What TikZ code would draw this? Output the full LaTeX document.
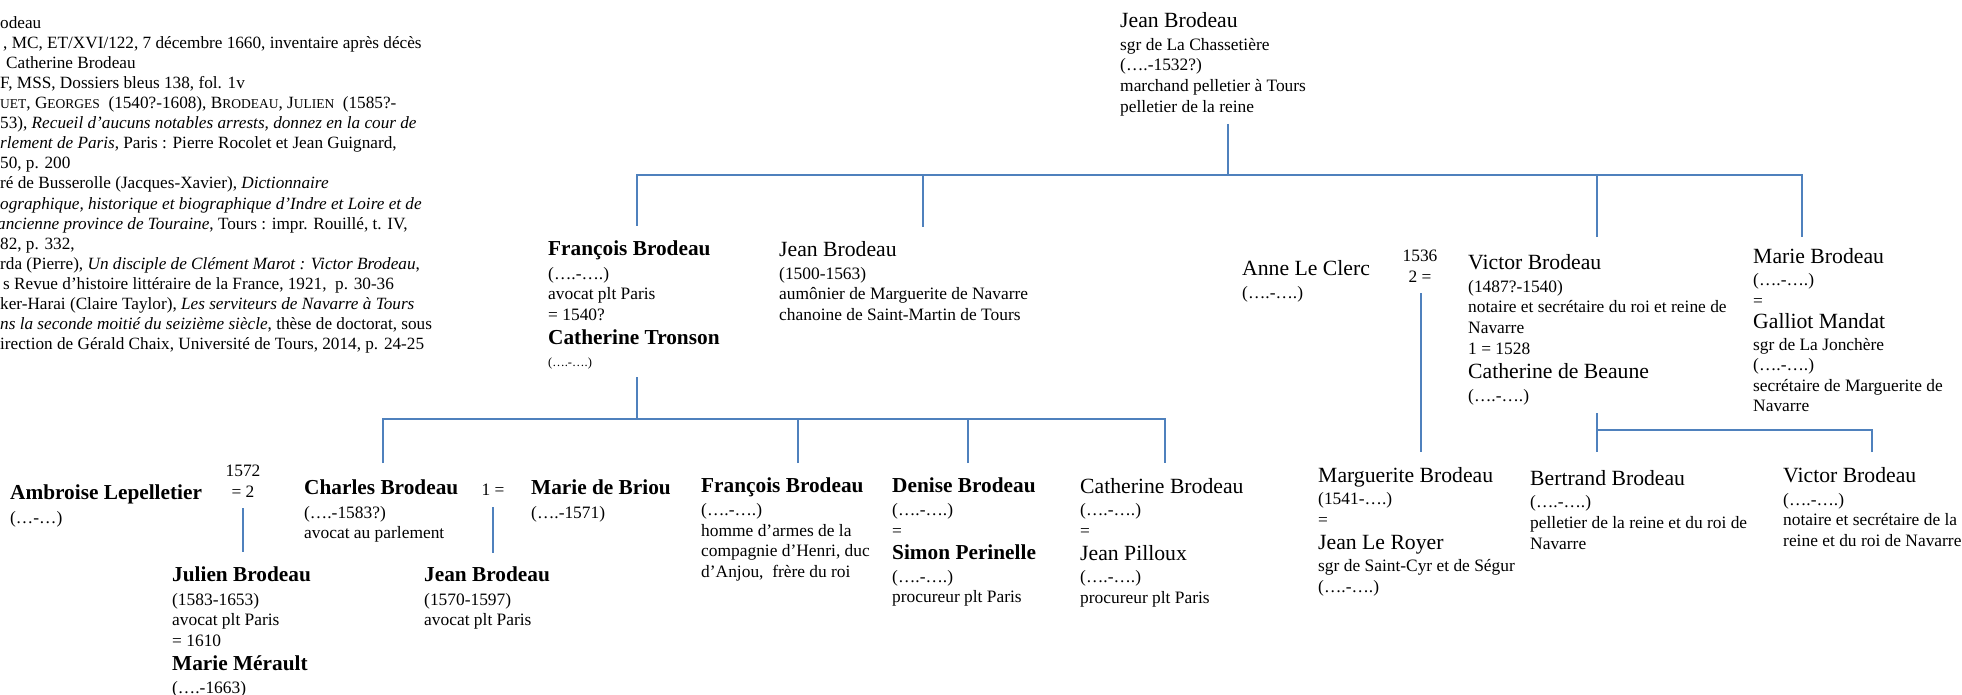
\documentclass[tikz,border=0pt]{standalone}
\usepackage{fontspec}
\setmainfont{Liberation Serif}
\definecolor{treeblue}{HTML}{4F81BD}
\newcommand\detf{\fontsize{17.4}{20.6}\selectfont}
\newcommand\namef{\fontsize{21.7}{24}\selectfont}
\newcommand\nameb{\fontsize{21.3}{24}\selectfont\bfseries}
\newcommand\tinyf{\fontsize{12.5}{14}\selectfont}
\newcommand\reff{\fontsize{17.2}{20.1}\selectfont}
\newcommand\scf{\fontsize{13.5}{16}\selectfont}
\tikzset{
  person/.style={anchor=north west, inner sep=0pt, align=left, font=\detf},
  marr/.style={inner sep=0pt, align=center, font=\detf},
  tree/.style={draw=treeblue, line width=1.8pt},
}
\begin{document}
\begin{tikzpicture}[x=1pt,y=-1pt]
\fill[white] (0,0) rectangle (1962,695);
\useasboundingbox (0,0) rectangle (1962,695);

% references
\node[person, font=\reff] (refs) at (0,16) {%
{odeau}\\
{\hspace*{3pt}, MC, ET/XVI/122, 7 décembre 1660, inventaire après décès}\\
{\hspace*{6pt}Catherine Brodeau}\\
{F, MSS, Dossiers bleus 138, fol. 1v}\\
{{\scf UET}, G{\scf EORGES}\enspace (1540?-1608), B{\scf RODEAU}, J{\scf ULIEN}\enspace (1585?-}\\
{53), \textit{Recueil d’aucuns notables arrests, donnez en la cour de}}\\
{\textit{rlement de Paris}, Paris : Pierre Rocolet et Jean Guignard,}\\
{50, p. 200}\\
{ré de Busserolle (Jacques-Xavier), \textit{Dictionnaire}}\\
{\textit{ographique, historique et biographique d'Indre et Loire et de}}\\
{\hspace*{-3pt}\textit{ancienne province de Touraine}, Tours : impr. Rouillé, t. IV,}\\
{82, p. 332,}\\
{rda (Pierre), \textit{Un disciple de Clément Marot : Victor Brodeau},}\\
{\hspace*{3pt}s Revue d’histoire littéraire de la France, 1921,\ \ p. 30-36}\\
{ker-Harai (Claire Taylor), \textit{Les serviteurs de Navarre à Tours}}\\
{\textit{ns la seconde moitié du seizième siècle}, thèse de doctorat, sous}\\
{irection de Gérald Chaix, Université de Tours, 2014, p. 24-25}};

% generation 1
\node[person] (jean0) at (1120,12) {%
{\namef Jean Brodeau}\\[2.5pt]
{sgr de La Chassetière}\\
{(….-1532?)}\\
{marchand pelletier à Tours}\\
{pelletier de la reine}};

% generation 2
\node[person] (fb) at (548,241) {%
{\nameb François Brodeau}\\[2.5pt]
{(….-….)}\\
{avocat plt Paris}\\
{= 1540?}\\[4pt]
{\nameb Catherine\ Tronson}\\[1.5pt]
{\tinyf (….-….)}};

\node[person] (jb) at (779,241) {%
{\namef Jean Brodeau}\\[2.5pt]
{(1500-1563)}\\
{aumônier de Marguerite de Navarre}\\
{chanoine de Saint-Martin de Tours}};

\node[person] (anne) at (1242,260) {%
{\namef Anne\ Le Clerc}\\[2.5pt]
{(….-….)}};

\node[marr, anchor=north] (m1536) at (1420,250) {1536\\2 =};

\node[person] (vb) at (1468,254) {%
{\namef Victor Brodeau}\\[2.5pt]
{(1487?-1540)}\\
{notaire et secrétaire du roi et reine de}\\
{Navarre}\\
{1 = 1528}\\[4pt]
{\namef Catherine de Beaune}\\[2.5pt]
{(….-….)}};

\node[person] (mb) at (1753,248) {%
{\namef Marie Brodeau}\\[2pt]
{(….-….)}\\
{=}\\[1.5pt]
{\namef Galliot Mandat}\\[1pt]
{sgr de La Jonchère}\\
{(….-….)}\\
{secrétaire de Marguerite de}\\
{Navarre}};

% generation 3
\node[person] (amb) at (10,485) {%
{\nameb Ambroise Lepelletier}\\[2.5pt]
{(…-…)}};

\node[marr, anchor=north] (m1572) at (243,465) {1572\\= 2};

\node[person] (cb) at (304,480) {%
{\nameb Charles Brodeau}\\[2.5pt]
{(….-1583?)}\\
{avocat au parlement}};

\node[marr] (eq1) at (493,490) {1 =};

\node[person] (mdb) at (531,480) {%
{\nameb Marie de Briou}\\[2.5pt]
{(….-1571)}};

\node[person] (fb2) at (701,478) {%
{\nameb François Brodeau}\\[2pt]
{(….-….)}\\
{homme d’armes de la}\\
{compagnie d’Henri, duc}\\
{d’Anjou,\ \ frère du roi}};

\node[person] (db) at (892,478) {%
{\nameb Denise Brodeau}\\[2pt]
{(….-….)}\\
{=}\\[3pt]
{\nameb Simon Perinelle}\\[2pt]
{(….-….)}\\
{procureur plt Paris}};

\node[person] (catb) at (1080,478) {%
{\namef Catherine Brodeau}\\[2pt]
{(….-….)}\\
{=}\\[3pt]
{\namef Jean Pilloux}\\[2pt]
{(….-….)}\\
{procureur plt Paris}};

\node[person] (margb) at (1318,467) {%
{\namef Marguerite Brodeau}\\[2pt]
{(1541-….)}\\
{=}\\[3pt]
{\namef Jean Le Royer}\\[2pt]
{sgr de Saint-Cyr et de Ségur}\\
{(….-….)}};

\node[person] (bert) at (1530,470) {%
{\namef Bertrand Brodeau}\\[2pt]
{(….-….)}\\
{pelletier de la reine et du roi de}\\
{Navarre}};

\node[person] (vb2) at (1783,467) {%
{\namef Victor Brodeau}\\[2.5pt]
{(….-….)}\\
{notaire et secrétaire de la}\\
{reine et du roi de Navarre}};

% generation 4
\node[person] (jul) at (172,567) {%
{\nameb Julien Brodeau}\\[2.5pt]
{(1583-1653)}\\
{avocat plt Paris}\\
{= 1610}\\[4pt]
{\nameb Marie Mérault}\\[2.5pt]
{(….-1663)}};

\node[person] (jb2) at (424,567) {%
{\nameb Jean Brodeau}\\[2.5pt]
{(1570-1597)}\\
{avocat plt Paris}};

% connectors
\coordinate (t0) at (1228,124);
\coordinate (bar0) at (1228,175);
\coordinate (d1) at (637,226);
\coordinate (d2) at (923,227);
\coordinate (d3) at (1597,237);
\coordinate (d4) at (1802,237);
\draw[tree] (t0) -- (bar0);
\draw[tree] (d1) -- (d1 |- bar0) -- (d4 |- bar0) -- (d4);
\draw[tree] (d2) -- (d2 |- bar0);
\draw[tree] (d3) -- (d3 |- bar0);

\coordinate (t1) at (637,377);
\coordinate (bar1) at (637,419);
\coordinate (e1) at (383,463);
\coordinate (e2) at (798,463);
\coordinate (e3) at (968,463);
\coordinate (e4) at (1165,463);
\draw[tree] (t1) -- (bar1);
\draw[tree] (e1) -- (e1 |- bar1) -- (e4 |- bar1) -- (e4);
\draw[tree] (e2) -- (e2 |- bar1);
\draw[tree] (e3) -- (e3 |- bar1);

\coordinate (t2) at (1421,293);
\coordinate (e5) at (1421,452);
\draw[tree] (t2) -- (e5);

\coordinate (t3) at (1597,413);
\coordinate (bar3) at (1597,430);
\coordinate (e6) at (1597,452);
\coordinate (e7) at (1872,452);
\draw[tree] (t3) -- (e6);
\draw[tree] (e7) -- (e7 |- bar3) -- (bar3);

\coordinate (t4) at (243,508);
\coordinate (e8) at (243,552);
\draw[tree] (t4) -- (e8);
\coordinate (t5) at (493,507);
\coordinate (e9) at (493,553);
\draw[tree] (t5) -- (e9);
\end{tikzpicture}
\end{document}
